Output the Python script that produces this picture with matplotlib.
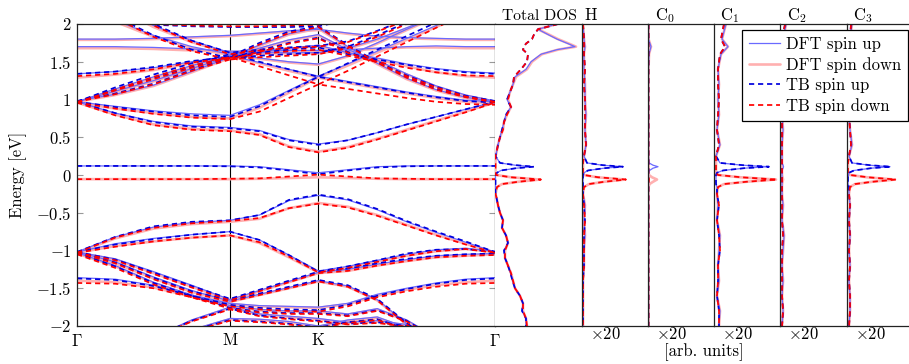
import matplotlib
matplotlib.use("Agg")
import matplotlib.pyplot as plt
from matplotlib.lines import Line2D

plt.rcParams["font.family"] = "cmr10"
plt.rcParams["mathtext.fontset"] = "cm"
plt.rcParams["axes.unicode_minus"] = False
plt.rcParams["font.size"] = 12

# ---------------------------------------------------------------- k-path
path_labels = [r"$\Gamma$", "M", "K", r"$\Gamma$"]
segment_lengths = [1.0, 0.5774, 1.1547]          # |GM| : |MK| : |KG|
segment_fracs = [[0, 0.25, 0.5, 0.75],
                 [0, 1 / 3, 2 / 3],
                 [0, 1 / 6, 1 / 3, 1 / 2, 2 / 3, 5 / 6, 1]]

# ------------------------------------------------ band energies (eV) per k-point
dft_up_bands = [
    [0.12, 0.12, 0.12, 0.12, 0.12, 0.11, 0.07, 0.03, 0.07, 0.11, 0.12, 0.12, 0.12, 0.12],
    [0.97, 0.82, 0.71, 0.65, 0.63, 0.59, 0.47, 0.41, 0.46, 0.56, 0.67, 0.77, 0.87, 0.97],
    [0.97, 0.91, 0.85, 0.81, 0.79, 0.93, 1.12, 1.31, 1.24, 1.17, 1.10, 1.04, 0.99, 0.97],
    [0.97, 1.14, 1.30, 1.45, 1.58, 1.49, 1.40, 1.31, 1.47, 1.64, 1.81, 1.98, 2.15, 2.30],
    [0.97, 1.11, 1.25, 1.41, 1.57, 1.72, 1.87, 1.95, 1.70, 1.48, 1.28, 1.13, 1.03, 0.97],
    [0.98, 1.07, 1.19, 1.37, 1.56, 1.68, 1.79, 1.86, 1.66, 1.52, 1.34, 1.18, 1.06, 0.98],
    [1.34, 1.37, 1.42, 1.50, 1.58, 1.63, 1.68, 1.72, 1.62, 1.55, 1.47, 1.41, 1.37, 1.35],
    [2.40, 2.05, 1.85, 1.70, 1.60, 1.55, 1.50, 1.47, 1.58, 1.75, 1.93, 2.10, 2.25, 2.40],
    [2.60, 2.25, 1.98, 1.78, 1.62, 1.62, 1.62, 1.62, 1.68, 1.80, 1.95, 2.10, 2.30, 2.60],
    [1.80, 1.80, 1.81, 1.83, 1.85, 1.88, 1.91, 1.93, 1.88, 1.84, 1.82, 1.81, 1.80, 1.80],
    [1.70, 1.70, 1.69, 1.67, 1.64, 1.64, 1.65, 1.65, 1.66, 1.68, 1.70, 1.71, 1.70, 1.70],
    [-1.02, -0.82, -0.69, -0.63, -0.60, -0.53, -0.34, -0.27, -0.33, -0.46, -0.62, -0.76, -0.89, -1.02],
    [-1.02, -0.91, -0.84, -0.79, -0.75, -0.86, -1.06, -1.27, -1.21, -1.13, -1.05, -0.99, -0.97, -1.01],
    [-1.02, -1.11, -1.28, -1.46, -1.65, -1.53, -1.41, -1.29, -1.25, -1.18, -1.12, -1.07, -1.05, -1.04],
    [-1.02, -1.15, -1.35, -1.53, -1.67, -1.58, -1.49, -1.40, -1.47, -1.65, -1.97, -2.25, -2.45, -2.60],
    [-1.03, -1.20, -1.42, -1.59, -1.70, -1.73, -1.74, -1.75, -1.70, -1.58, -1.50, -1.43, -1.38, -1.36],
    [-1.36, -1.38, -1.46, -1.59, -1.73, -1.78, -1.80, -1.80, -1.84, -1.77, -1.92, -2.15, -2.35, -2.50],
    [-2.60, -2.40, -2.15, -1.92, -1.75, -1.84, -1.87, -1.90, -1.95, -1.93, -1.98, -2.10, -2.30, -2.50],
    [-2.80, -2.60, -2.30, -2.05, -1.90, -1.91, -1.94, -2.00, -1.92, -1.88, -2.02, -2.20, -2.40, -2.60],
]

dft_dn_bands = [
    [-0.055, -0.055, -0.055, -0.055, -0.055, -0.05, -0.04, -0.03, -0.04, -0.05, -0.055, -0.055, -0.055, -0.055],
    [0.96, 0.80, 0.67, 0.61, 0.59, 0.54, 0.38, 0.31, 0.37, 0.48, 0.60, 0.72, 0.84, 0.96],
    [0.96, 0.88, 0.82, 0.77, 0.75, 0.89, 1.09, 1.29, 1.22, 1.15, 1.08, 1.02, 0.97, 0.95],
    [0.96, 1.12, 1.28, 1.43, 1.57, 1.48, 1.38, 1.29, 1.45, 1.62, 1.79, 1.96, 2.13, 2.28],
    [0.96, 1.10, 1.24, 1.40, 1.56, 1.71, 1.86, 1.94, 1.69, 1.47, 1.27, 1.12, 1.02, 0.96],
    [0.97, 1.06, 1.18, 1.36, 1.55, 1.67, 1.78, 1.85, 1.65, 1.51, 1.33, 1.17, 1.05, 0.97],
    [1.29, 1.33, 1.39, 1.48, 1.57, 1.62, 1.67, 1.71, 1.61, 1.53, 1.44, 1.36, 1.31, 1.29],
    [2.38, 2.03, 1.83, 1.68, 1.59, 1.54, 1.49, 1.46, 1.57, 1.74, 1.92, 2.09, 2.24, 2.38],
    [2.58, 2.23, 1.96, 1.76, 1.61, 1.61, 1.61, 1.61, 1.67, 1.79, 1.94, 2.09, 2.29, 2.58],
    [1.79, 1.79, 1.80, 1.82, 1.84, 1.87, 1.90, 1.92, 1.87, 1.83, 1.81, 1.80, 1.79, 1.79],
    [1.68, 1.68, 1.67, 1.65, 1.63, 1.63, 1.64, 1.64, 1.65, 1.67, 1.69, 1.69, 1.68, 1.68],
    [-1.03, -0.84, -0.71, -0.65, -0.62, -0.58, -0.44, -0.37, -0.42, -0.53, -0.66, -0.79, -0.91, -1.03],
    [-1.03, -0.94, -0.88, -0.83, -0.80, -0.90, -1.09, -1.29, -1.23, -1.15, -1.07, -1.01, -0.98, -1.02],
    [-1.03, -1.12, -1.30, -1.48, -1.66, -1.54, -1.42, -1.30, -1.27, -1.20, -1.14, -1.09, -1.07, -1.05],
    [-1.03, -1.17, -1.37, -1.55, -1.68, -1.59, -1.50, -1.41, -1.48, -1.66, -1.98, -2.26, -2.46, -2.61],
    [-1.04, -1.21, -1.43, -1.60, -1.71, -1.74, -1.75, -1.76, -1.71, -1.60, -1.52, -1.46, -1.42, -1.40],
    [-1.40, -1.42, -1.49, -1.61, -1.74, -1.79, -1.81, -1.81, -1.85, -1.78, -1.93, -2.16, -2.36, -2.51],
    [-2.61, -2.41, -2.16, -1.93, -1.76, -1.85, -1.88, -1.91, -1.96, -1.94, -1.99, -2.11, -2.31, -2.51],
    [-2.81, -2.61, -2.31, -2.06, -1.91, -1.92, -1.95, -2.01, -1.93, -1.89, -2.03, -2.21, -2.41, -2.61],
]

tb_up_bands = [
    [0.12, 0.12, 0.12, 0.12, 0.115, 0.10, 0.06, 0.01, 0.06, 0.10, 0.115, 0.12, 0.12, 0.12],
    [0.97, 0.82, 0.70, 0.64, 0.62, 0.58, 0.46, 0.40, 0.46, 0.56, 0.67, 0.77, 0.87, 0.97],
    [0.97, 0.90, 0.84, 0.79, 0.77, 0.91, 1.11, 1.30, 1.23, 1.16, 1.09, 1.03, 0.98, 0.96],
    [0.97, 1.16, 1.33, 1.48, 1.60, 1.50, 1.40, 1.30, 1.48, 1.66, 1.84, 2.02, 2.20, 2.35],
    [0.97, 1.13, 1.28, 1.43, 1.57, 1.75, 1.90, 1.97, 1.72, 1.50, 1.30, 1.14, 1.04, 0.97],
    [0.98, 1.08, 1.21, 1.39, 1.55, 1.65, 1.75, 1.82, 1.63, 1.50, 1.32, 1.17, 1.05, 0.98],
    [1.34, 1.37, 1.43, 1.51, 1.56, 1.62, 1.66, 1.69, 1.60, 1.53, 1.46, 1.40, 1.36, 1.34],
    [2.30, 2.10, 1.99, 1.97, 1.96, 1.96, 1.96, 1.97, 2.05, 2.15, 2.25, 2.35, 2.45, 2.50],
    [2.50, 2.10, 1.85, 1.66, 1.55, 1.58, 1.60, 1.62, 1.70, 1.85, 2.02, 2.20, 2.40, 2.50],
    [2.64, 2.28, 2.00, 1.78, 1.62, 1.66, 1.69, 1.71, 1.77, 1.91, 2.06, 2.23, 2.41, 2.62],
    [-1.02, -0.82, -0.68, -0.62, -0.60, -0.53, -0.33, -0.26, -0.32, -0.45, -0.61, -0.75, -0.88, -1.02],
    [-1.02, -0.92, -0.85, -0.79, -0.75, -0.86, -1.06, -1.28, -1.21, -1.13, -1.04, -0.99, -0.98, -1.02],
    [-1.02, -1.12, -1.29, -1.47, -1.64, -1.52, -1.40, -1.28, -1.24, -1.17, -1.11, -1.07, -1.05, -1.04],
    [-1.02, -1.16, -1.36, -1.54, -1.66, -1.57, -1.48, -1.39, -1.46, -1.64, -1.96, -2.24, -2.44, -2.60],
    [-1.03, -1.21, -1.43, -1.60, -1.72, -1.76, -1.78, -1.79, -1.72, -1.60, -1.51, -1.44, -1.39, -1.37],
    [-1.37, -1.39, -1.47, -1.60, -1.76, -1.81, -1.83, -1.83, -1.86, -1.79, -1.93, -2.16, -2.36, -2.50],
    [-2.60, -2.40, -2.15, -1.93, -1.77, -1.86, -1.90, -1.93, -1.97, -1.95, -2.00, -2.12, -2.30, -2.50],
    [-2.80, -2.60, -2.30, -2.06, -1.92, -1.94, -1.97, -2.02, -1.95, -1.91, -2.04, -2.22, -2.40, -2.60],
]

tb_dn_bands = [
    [-0.055, -0.055, -0.055, -0.055, -0.05, -0.045, -0.02, 0.005, -0.02, -0.045, -0.05, -0.055, -0.055, -0.055],
    [0.96, 0.79, 0.66, 0.60, 0.58, 0.53, 0.37, 0.30, 0.36, 0.47, 0.59, 0.71, 0.83, 0.96],
    [0.96, 0.88, 0.81, 0.76, 0.74, 0.84, 1.02, 1.20, 1.14, 1.08, 1.02, 0.97, 0.94, 0.93],
    [0.96, 1.13, 1.30, 1.45, 1.56, 1.44, 1.32, 1.20, 1.38, 1.57, 1.76, 1.95, 2.14, 2.30],
    [0.96, 1.12, 1.27, 1.42, 1.55, 1.73, 1.88, 1.96, 1.71, 1.49, 1.29, 1.13, 1.03, 0.96],
    [0.97, 1.07, 1.20, 1.38, 1.53, 1.63, 1.74, 1.81, 1.62, 1.49, 1.31, 1.16, 1.04, 0.97],
    [1.31, 1.34, 1.40, 1.49, 1.55, 1.60, 1.64, 1.66, 1.58, 1.50, 1.42, 1.36, 1.32, 1.31],
    [2.32, 2.12, 2.00, 1.98, 1.97, 1.97, 1.98, 1.99, 2.06, 2.16, 2.26, 2.36, 2.46, 2.52],
    [2.48, 2.08, 1.83, 1.64, 1.53, 1.56, 1.58, 1.60, 1.68, 1.83, 2.00, 2.18, 2.38, 2.48],
    [2.62, 2.26, 1.98, 1.76, 1.60, 1.65, 1.68, 1.70, 1.76, 1.90, 2.05, 2.22, 2.40, 2.60],
    [-1.03, -0.83, -0.70, -0.64, -0.61, -0.57, -0.44, -0.38, -0.43, -0.54, -0.67, -0.80, -0.92, -1.03],
    [-1.03, -0.95, -0.88, -0.83, -0.80, -0.89, -1.08, -1.29, -1.23, -1.15, -1.07, -1.01, -0.98, -1.03],
    [-1.03, -1.13, -1.31, -1.49, -1.66, -1.54, -1.42, -1.30, -1.27, -1.20, -1.14, -1.09, -1.07, -1.06],
    [-1.03, -1.17, -1.38, -1.56, -1.68, -1.59, -1.50, -1.41, -1.48, -1.66, -1.98, -2.26, -2.46, -2.61],
    [-1.05, -1.23, -1.45, -1.62, -1.74, -1.78, -1.80, -1.81, -1.74, -1.62, -1.54, -1.48, -1.44, -1.43],
    [-1.43, -1.44, -1.50, -1.62, -1.77, -1.82, -1.84, -1.84, -1.87, -1.80, -1.94, -2.17, -2.37, -2.51],
    [-2.61, -2.41, -2.16, -1.94, -1.78, -1.87, -1.91, -1.94, -1.98, -1.96, -2.01, -2.13, -2.31, -2.51],
    [-2.81, -2.61, -2.31, -2.07, -1.93, -1.95, -1.98, -2.03, -1.96, -1.92, -2.05, -2.23, -2.41, -2.61],
]

# ------------------------------------------------------------- total DOS
total_energy = [2.0, 1.93, 1.86, 1.8, 1.74, 1.7, 1.66, 1.6, 1.5, 1.4, 1.3, 1.2, 1.1, 1.0, 0.9, 0.8,
                0.7, 0.6, 0.5, 0.4, 0.3, 0.25, 0.16, 0.13, 0.11, 0.09, 0.06, 0.03, 0.0, -0.03,
                -0.06, -0.09, -0.12, -0.16, -0.25, -0.3, -0.4, -0.5, -0.6, -0.7, -0.8, -0.9, -1.0,
                -1.1, -1.2, -1.3, -1.4, -1.5, -1.6, -1.7, -1.8, -1.9, -2.0]
total_dft_up = [6.2, 4.3, 5.3, 6.2, 7.3, 8.0, 6.2, 4.6, 3.6, 3.1, 2.0, 1.8, 1.5, 1.2, 1.6, 1.1,
                0.9, 0.7, 0.5, 0.3, 0.15, 0.05, 0.5, 2.0, 3.8, 2.1, 0.6, 0.2, 0.05, 0.05,
                0.05, 0.05, 0.05, 0.05, 0.05, 0.15, 0.3, 0.5, 0.8, 0.7, 1.1, 1.3, 0.9,
                1.0, 1.3, 1.55, 1.75, 2.0, 2.5, 2.8, 2.7, 3.1, 3.1]
total_dft_dn = [6.2, 4.3, 5.4, 6.3, 7.4, 8.1, 6.3, 4.7, 3.7, 3.2, 2.1, 1.8, 1.5, 1.3, 1.6, 1.2,
                0.9, 0.8, 0.5, 0.3, 0.15, 0.05, 0.05, 0.05, 0.05, 0.05, 0.05, 0.05, 0.1, 1.6,
                4.5, 2.3, 0.7, 0.2, 0.05, 0.15, 0.3, 0.5, 0.8, 0.7, 1.1, 1.3, 1.0,
                1.0, 1.3, 1.6, 1.8, 2.0, 2.5, 2.8, 2.8, 3.1, 3.2]
total_tb_up = [6.3, 4.3, 3.9, 3.7, 3.1, 2.9, 2.8, 3.3, 3.2, 2.6, 1.9, 1.8, 1.5, 1.2, 1.6, 1.1,
               0.9, 0.7, 0.5, 0.3, 0.15, 0.05, 0.5, 2.1, 3.9, 2.1, 0.6, 0.2, 0.05, 0.05,
               0.05, 0.05, 0.05, 0.05, 0.05, 0.15, 0.3, 0.5, 0.8, 0.7, 1.1, 1.3, 0.9,
               1.0, 1.3, 1.55, 1.75, 2.0, 2.5, 2.8, 2.7, 3.1, 3.1]
total_tb_dn = [6.3, 4.3, 3.9, 3.7, 3.1, 2.9, 2.8, 3.3, 3.2, 2.6, 1.9, 1.8, 1.5, 1.3, 1.6, 1.2,
               0.9, 0.8, 0.5, 0.3, 0.15, 0.05, 0.05, 0.05, 0.05, 0.05, 0.05, 0.05, 0.1, 1.6,
               4.6, 2.3, 0.7, 0.2, 0.05, 0.15, 0.3, 0.5, 0.8, 0.7, 1.1, 1.3, 1.0,
               1.0, 1.3, 1.6, 1.8, 2.0, 2.5, 2.8, 2.8, 3.1, 3.2]

# -------------------------------------------------- projected DOS (x20)
pdos_energy = [2.0, 1.8, 1.7, 1.6, 1.4, 1.2, 1.0, 0.8, 0.6, 0.4, 0.25, 0.16, 0.13, 0.11, 0.09,
               0.06, 0.03, 0.0, -0.03, -0.06, -0.09, -0.12, -0.16, -0.25, -0.4, -0.6, -0.8,
               -1.0, -1.2, -1.4, -1.6, -1.8, -2.0]
pdos_titles = ["H", "C$_0$", "C$_1$", "C$_2$", "C$_3$"]

h_dft_up = [0.1, 0.2, 0.3, 0.2, 0.2, 0.3, 0.3, 0.4, 0.3, 0.4, 0.2, 0.5, 2.0, 4.0, 2.2, 0.6, 0.2,
            0.1, 0.1, 0.1, 0.1, 0.1, 0.1, 0.1, 0.3, 0.2, 0.3, 0.2, 0.2, 0.1, 0.1, 0.1, 0.1]
h_dft_dn = [0.1, 0.2, 0.3, 0.2, 0.2, 0.3, 0.3, 0.4, 0.3, 0.4, 0.2, 0.1, 0.1, 0.1, 0.1, 0.1, 0.1,
            0.2, 1.5, 4.3, 2.2, 0.7, 0.2, 0.1, 0.3, 0.2, 0.3, 0.2, 0.2, 0.1, 0.1, 0.1, 0.1]
h_tb_up = [0.1, 0.2, 0.2, 0.2, 0.3, 0.2, 0.3, 0.3, 0.3, 0.4, 0.2, 0.5, 2.1, 4.1, 2.2, 0.6, 0.2,
           0.1, 0.1, 0.1, 0.1, 0.1, 0.1, 0.1, 0.2, 0.3, 0.2, 0.2, 0.2, 0.1, 0.1, 0.1, 0.1]
h_tb_dn = [0.1, 0.2, 0.2, 0.2, 0.3, 0.2, 0.3, 0.3, 0.3, 0.4, 0.2, 0.1, 0.1, 0.1, 0.1, 0.1, 0.1,
           0.2, 1.6, 4.4, 2.2, 0.7, 0.2, 0.1, 0.2, 0.3, 0.2, 0.2, 0.2, 0.1, 0.1, 0.1, 0.1]

c0_dft_up = [0.05, 0.05, 0.3, 0.1, 0.05, 0.05, 0.05, 0.05, 0.05, 0.05, 0.05, 0.1, 0.5, 1.0, 0.5,
             0.15, 0.05, 0.05, 0.05, 0.05, 0.05, 0.05, 0.05, 0.05, 0.05, 0.05, 0.05, 0.05, 0.05,
             0.05, 0.05, 0.05, 0.05]
c0_dft_dn = [0.05, 0.05, 0.3, 0.1, 0.05, 0.05, 0.05, 0.05, 0.05, 0.05, 0.05, 0.05, 0.05, 0.05,
             0.05, 0.05, 0.05, 0.1, 0.4, 0.9, 0.5, 0.15, 0.05, 0.05, 0.05, 0.05, 0.05, 0.05, 0.05,
             0.05, 0.05, 0.05, 0.05]
c0_tb_up = [0.05, 0.05, 0.05, 0.05, 0.05, 0.05, 0.05, 0.05, 0.05, 0.05, 0.05, 0.05, 0.08, 0.1,
            0.08, 0.05, 0.05, 0.05, 0.05, 0.05, 0.05, 0.05, 0.05, 0.05, 0.05, 0.05, 0.05, 0.05,
            0.05, 0.05, 0.05, 0.05, 0.05]
c0_tb_dn = [0.05, 0.05, 0.05, 0.05, 0.05, 0.05, 0.05, 0.05, 0.05, 0.05, 0.05, 0.05, 0.05, 0.05,
            0.05, 0.05, 0.05, 0.05, 0.08, 0.1, 0.08, 0.05, 0.05, 0.05, 0.05, 0.05, 0.05, 0.05,
            0.05, 0.05, 0.05, 0.05, 0.05]

c1_dft_up = [1.2, 0.8, 1.4, 0.7, 0.4, 0.5, 0.4, 0.5, 0.3, 0.6, 0.2, 0.6, 2.8, 5.4, 3.0, 0.9, 0.3,
             0.2, 0.2, 0.2, 0.2, 0.2, 0.3, 0.3, 0.4, 0.3, 0.6, 0.5, 0.4, 0.5, 0.3, 0.6, 0.5]
c1_dft_dn = [1.2, 0.8, 1.4, 0.7, 0.4, 0.5, 0.4, 0.5, 0.3, 0.6, 0.2, 0.2, 0.2, 0.2, 0.2, 0.2, 0.2,
             0.4, 2.6, 6.2, 3.2, 1.0, 0.4, 0.3, 0.4, 0.3, 0.6, 0.5, 0.4, 0.5, 0.3, 0.6, 0.5]
c1_tb_up = [1.0, 0.7, 1.1, 0.6, 0.4, 0.4, 0.5, 0.4, 0.3, 0.5, 0.2, 0.6, 2.9, 5.5, 3.0, 0.9, 0.3,
            0.2, 0.2, 0.2, 0.2, 0.2, 0.3, 0.3, 0.5, 0.3, 0.5, 0.6, 0.4, 0.4, 0.3, 0.5, 0.5]
c1_tb_dn = [1.0, 0.7, 1.1, 0.6, 0.4, 0.4, 0.5, 0.4, 0.3, 0.5, 0.2, 0.2, 0.2, 0.2, 0.2, 0.2, 0.2,
            0.4, 2.7, 6.3, 3.2, 1.0, 0.4, 0.3, 0.5, 0.3, 0.5, 0.6, 0.4, 0.4, 0.3, 0.5, 0.5]

c2_dft_up = [0.6, 0.3, 0.2, 0.2, 0.3, 0.2, 0.3, 0.2, 0.3, 0.2, 0.2, 0.2, 0.3, 0.35, 0.3, 0.2, 0.2,
             0.2, 0.2, 0.2, 0.2, 0.2, 0.2, 0.2, 0.3, 0.2, 0.4, 0.3, 0.2, 0.3, 0.2, 0.3, 0.2]
c2_dft_dn = [0.6, 0.3, 0.2, 0.2, 0.3, 0.2, 0.3, 0.2, 0.3, 0.2, 0.2, 0.2, 0.2, 0.2, 0.2, 0.2, 0.2,
             0.2, 0.25, 0.3, 0.25, 0.2, 0.2, 0.2, 0.3, 0.2, 0.4, 0.3, 0.2, 0.3, 0.2, 0.3, 0.2]
c2_tb_up = [0.5, 0.2, 0.2, 0.2, 0.2, 0.2, 0.2, 0.2, 0.2, 0.2, 0.2, 0.2, 0.2, 0.2, 0.2, 0.2, 0.2,
            0.2, 0.2, 0.2, 0.2, 0.2, 0.2, 0.2, 0.2, 0.2, 0.3, 0.2, 0.2, 0.2, 0.2, 0.3, 0.2]
c2_tb_dn = [0.5, 0.2, 0.2, 0.2, 0.2, 0.2, 0.2, 0.2, 0.2, 0.2, 0.2, 0.2, 0.2, 0.2, 0.2, 0.2, 0.2,
            0.2, 0.2, 0.2, 0.2, 0.2, 0.2, 0.2, 0.2, 0.2, 0.3, 0.2, 0.2, 0.2, 0.2, 0.3, 0.2]

c3_dft_up = [0.5, 0.3, 0.2, 0.2, 0.3, 0.2, 0.3, 0.2, 0.3, 0.5, 0.2, 0.5, 2.2, 4.3, 2.4, 0.7, 0.2,
             0.15, 0.1, 0.1, 0.1, 0.1, 0.2, 0.2, 0.3, 0.2, 0.3, 0.2, 0.3, 0.2, 0.3, 0.3, 0.2]
c3_dft_dn = [0.5, 0.3, 0.2, 0.2, 0.3, 0.2, 0.3, 0.2, 0.3, 0.5, 0.2, 0.1, 0.1, 0.1, 0.1, 0.1, 0.1,
             0.3, 2.0, 4.8, 2.5, 0.8, 0.3, 0.2, 0.3, 0.2, 0.3, 0.2, 0.3, 0.2, 0.3, 0.3, 0.2]
c3_tb_up = [0.4, 0.3, 0.2, 0.2, 0.2, 0.2, 0.3, 0.2, 0.3, 0.4, 0.2, 0.5, 2.3, 4.4, 2.4, 0.7, 0.2,
            0.15, 0.1, 0.1, 0.1, 0.1, 0.2, 0.2, 0.3, 0.2, 0.3, 0.2, 0.3, 0.2, 0.3, 0.3, 0.2]
c3_tb_dn = [0.4, 0.3, 0.2, 0.2, 0.2, 0.2, 0.3, 0.2, 0.3, 0.4, 0.2, 0.1, 0.1, 0.1, 0.1, 0.1, 0.1,
            0.3, 2.1, 4.9, 2.5, 0.8, 0.3, 0.2, 0.3, 0.2, 0.3, 0.2, 0.3, 0.2, 0.3, 0.3, 0.2]

pdos_series = [
    (h_dft_up, h_dft_dn, h_tb_up, h_tb_dn),
    (c0_dft_up, c0_dft_dn, c0_tb_up, c0_tb_dn),
    (c1_dft_up, c1_dft_dn, c1_tb_up, c1_tb_dn),
    (c2_dft_up, c2_dft_dn, c2_tb_up, c2_tb_dn),
    (c3_dft_up, c3_dft_dn, c3_tb_up, c3_tb_dn),
]

# ------------------------------------------------------------------ styles
STYLE_DFT_DN = dict(color="#ffb0b0", lw=1.9, solid_capstyle="round")
STYLE_DFT_UP = dict(color="#6a6aff", lw=0.9)
STYLE_TB_UP = dict(color="#0000dd", lw=1.25, dashes=(3.0, 2.2))
STYLE_TB_DN = dict(color="#ff0000", lw=1.25, dashes=(3.0, 2.2))
SPINE_COLOR = "#222222"

W, H = 909, 364
fig = plt.figure(figsize=(W / 100, H / 100), dpi=100)


def px_axes(x0, x1, y0=24, y1=326):
    return fig.add_axes([x0 / W, 1 - y1 / H, (x1 - x0) / W, (y1 - y0) / H])


# k-point coordinates along the path
k_nodes = []
k_ticks = [0.0]
start = 0.0
for length, fracs in zip(segment_lengths, segment_fracs):
    k_nodes += [start + f * length for f in fracs]
    start += length
    k_ticks.append(start)
k_nodes = k_nodes[:len(dft_up_bands[0])]

# ------------------------------------------------------------ band panel
ax = px_axes(77, 495)
for bands, style in ((dft_dn_bands, STYLE_DFT_DN), (dft_up_bands, STYLE_DFT_UP),
                     (tb_up_bands, STYLE_TB_UP), (tb_dn_bands, STYLE_TB_DN)):
    for band in bands:
        ax.plot(k_nodes, band, **style)
for kx in k_ticks[1:-1]:
    ax.axvline(kx, color="black", lw=0.8, zorder=0.5)
ax.set_xlim(k_ticks[0], k_ticks[-1])
ax.set_ylim(-2, 2)
yt = [-2, -1.5, -1, -0.5, 0, 0.5, 1, 1.5, 2]
ax.set_yticks(yt, [f"${v:g}$" for v in yt])
ax.set_xticks(k_ticks, path_labels)
ax.tick_params(axis="y", direction="in", length=4.5, width=0.8, color="#999999",
               left=True, right=True, pad=4)
ax.tick_params(axis="x", length=0, pad=5)
for s in ax.spines.values():
    s.set_color(SPINE_COLOR)
    s.set_linewidth(0.9)
fig.text(18.5 / W, 1 - 175 / H, "Energy [eV]", rotation=90, ha="center", va="center")

# ---------------------------------------------------------- DOS panels
def style_dos_axes(a, xmax):
    a.set_xlim(0, xmax)
    a.set_ylim(-2, 2)
    a.set_xticks([])
    a.set_yticks([])
    a.spines["right"].set_visible(False)
    for name in ("left", "top", "bottom"):
        a.spines[name].set_color(SPINE_COLOR)
        a.spines[name].set_linewidth(0.9)


ax_tot = px_axes(495, 582)
ax_tot.plot(total_dft_dn, total_energy, **STYLE_DFT_DN)
ax_tot.plot(total_dft_up, total_energy, **STYLE_DFT_UP)
ax_tot.plot(total_tb_up, total_energy, **STYLE_TB_UP)
ax_tot.plot(total_tb_dn, total_energy, **STYLE_TB_DN)
style_dos_axes(ax_tot, 8.7)
ax_tot.spines["left"].set_visible(False)
fig.text(502 / W, 1 - 20.5 / H, "Total DOS", ha="left", va="baseline", fontsize=11.2)

panel_edges = [582, 648, 714, 780, 847, 913]
title_offsets = [2, 7, 6, 7, 6]
for i, (title, series) in enumerate(zip(pdos_titles, pdos_series)):
    x0, x1 = panel_edges[i], panel_edges[i + 1]
    a = px_axes(x0, x1)
    d_up, d_dn, t_up, t_dn = series
    a.plot(d_dn, pdos_energy, **STYLE_DFT_DN)
    a.plot(d_up, pdos_energy, **STYLE_DFT_UP)
    a.plot(t_up, pdos_energy, **STYLE_TB_UP)
    a.plot(t_dn, pdos_energy, **STYLE_TB_DN)
    style_dos_axes(a, 6.6)
    fig.text((x0 + title_offsets[i]) / W, 1 - 20.5 / H, title, ha="left", va="baseline")
    fig.text((x0 + 8) / W, 1 - 339 / H, r"$\times 20$", ha="left", va="baseline")

fig.text(704 / W, 1 - 356 / H, "[arb. units]", ha="center", va="baseline")

# ---------------------------------------------------------------- legend
handles = [Line2D([], [], **STYLE_DFT_UP), Line2D([], [], **STYLE_DFT_DN),
           Line2D([], [], **STYLE_TB_UP), Line2D([], [], **STYLE_TB_DN)]
labels = ["DFT spin up", "DFT spin down", "TB spin up", "TB spin down"]
leg = fig.legend(handles, labels, loc="upper right", bbox_to_anchor=(908 / W, 1 - 30 / H),
                 fancybox=False, framealpha=1, edgecolor="black",
                 handlelength=1.9, handletextpad=0.35, labelspacing=0.3, borderpad=0.4,
                 borderaxespad=0)
leg.get_frame().set_linewidth(0.9)

fig.savefig("out.png", dpi=100)
